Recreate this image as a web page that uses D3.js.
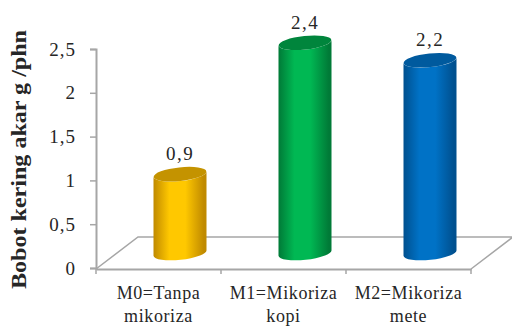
<!DOCTYPE html>
<html>
<head>
<meta charset="utf-8">
<script src="https://cdn.jsdelivr.net/npm/d3@7"></script>
<style>
html,body{margin:0;padding:0;background:#fff}
svg{display:block}
text{font-family:"Liberation Serif",serif;fill:#262626}
</style>
</head>
<body>
<svg id="chart" width="512" height="326"></svg>
<script>
const categories = [["M0=Tanpa","mikoriza"],["M1=Mikoriza","kopi"],["M2=Mikoriza","mete"]];
const values = [0.9, 2.4, 2.2];
const valueLabels = ["0,9", "2,4", "2,2"];
const yTicks = [0, 0.5, 1, 1.5, 2, 2.5];
const yTickLabels = ["0", "0,5", "1", "1,5", "2", "2,5"];
const yTitle = "Bobot kering akar g /phn";
const palette = [
  {edge:"#c08a00", mid:"#ffc800", top:"#c49300"},
  {edge:"#007a37", mid:"#00b853", top:"#00853c"},
  {edge:"#00508f", mid:"#0072c6", top:"#005a9e"}
];

const svg = d3.select("#chart");
const y = d3.scaleLinear().domain([0, 2.5]).range([268, 49]);
const x = d3.scaleBand().domain(d3.range(categories.length)).range([96, 471]);

// depth of the 3D floor and the shift it gives each cylinder
const depthX = 42, depthY = 32, barShiftX = 21.5, barShiftY = 15;
const rx = 26.5, ry = 6.8, tilt = -6;
const floorY = y(0) + 1;
const gray = "#a6a6a6";

// horizontal shading across each cylinder
const defs = svg.append("defs");
palette.forEach((c, i) => {
  const g = defs.append("linearGradient").attr("id", "bar" + i);
  [[0, c.edge], [0.3, c.mid], [0.6, c.mid], [0.95, c.edge], [1, c.edge]].forEach(([o, col]) =>
    g.append("stop").attr("offset", o).attr("stop-color", col));
});

// floor
svg.append("path")
  .attr("d", `M${x.range()[0]},${floorY}L${x.range()[0] + depthX},${floorY - depthY}H512M${x.range()[1]},${floorY}L${x.range()[1] + depthX},${floorY - depthY}`)
  .attr("fill", "none").attr("stroke", gray).attr("stroke-width", 1.5);

// value axis
const yAxis = d3.axisLeft(y).tickValues(yTicks).tickSize(6).tickPadding(14)
  .tickFormat((d, i) => yTickLabels[i]);
const yG = svg.append("g").attr("transform", "translate(96,0)").call(yAxis);
yG.select(".domain").attr("stroke", gray).attr("stroke-width", 2);
yG.selectAll(".tick line").attr("stroke", gray).attr("stroke-width", 1.5);
yG.selectAll(".tick text").attr("font-family", "Liberation Serif").attr("font-size", 19)
  .attr("letter-spacing", 1).attr("fill", "#262626");

// category axis
const xAxis = d3.axisBottom(x).tickValues([]).tickSize(0);
const xG = svg.append("g").attr("transform", `translate(0,${floorY})`).call(xAxis);
xG.select(".domain").attr("stroke", gray).attr("stroke-width", 2);
xG.selectAll(".edge").data([0, 1, 2, 3]).join("line").attr("class", "edge")
  .attr("x1", d => x.range()[0] + d * x.step()).attr("x2", d => x.range()[0] + d * x.step())
  .attr("y1", 0).attr("y2", 5).attr("stroke", gray).attr("stroke-width", 1.5);

// cylinders
const bars = svg.selectAll(".bar").data(values).join("g").attr("class", "bar");
const cx = i => x(i) + x.bandwidth() / 2 + barShiftX;
const topY = d => y(d) - barShiftY;
const rise = rx * Math.sin(-tilt * Math.PI / 180);
bars.append("path")
  .attr("d", (d, i) => {
    const l = cx(i) - rx, r = cx(i) + rx, t = topY(d), b = y(0) - barShiftY;
    return `M${l},${t + rise}L${l},${b + rise}A${rx},${ry} ${tilt} 0 0 ${r},${b - rise}L${r},${t - rise}A${rx},${ry} ${tilt} 0 1 ${l},${t + rise}Z`;
  })
  .attr("fill", (d, i) => `url(#bar${i})`);
bars.append("ellipse")
  .attr("rx", rx).attr("ry", ry)
  .attr("transform", (d, i) => `translate(${cx(i)},${topY(d)}) rotate(${tilt})`)
  .attr("fill", (d, i) => palette[i].top);

// value labels
svg.selectAll(".val").data(values).join("text").attr("class", "val")
  .attr("x", (d, i) => cx(i)).attr("y", d => topY(d) - 14)
  .attr("text-anchor", "middle").attr("font-size", 19).attr("letter-spacing", 1.5)
  .text((d, i) => valueLabels[i]);

// category labels
const catG = svg.selectAll(".cat").data(categories).join("text").attr("class", "cat")
  .attr("text-anchor", "middle").attr("font-size", 18).attr("letter-spacing", 0.6);
catG.selectAll("tspan").data((d, i) => d.map((t, k) => ({t, k, i}))).join("tspan")
  .attr("x", d => x(d.i) + x.bandwidth() / 2)
  .attr("y", d => 299 + d.k * 23)
  .text(d => d.t);

// value axis title
svg.append("text")
  .attr("transform", "translate(26,159.5) rotate(-90)")
  .attr("text-anchor", "middle").attr("font-size", 22).attr("font-weight", "bold")
  .attr("textLength", 259).attr("lengthAdjust", "spacingAndGlyphs")
  .attr("fill", "#1a1a1a").text(yTitle);
</script>
</body>
</html>
